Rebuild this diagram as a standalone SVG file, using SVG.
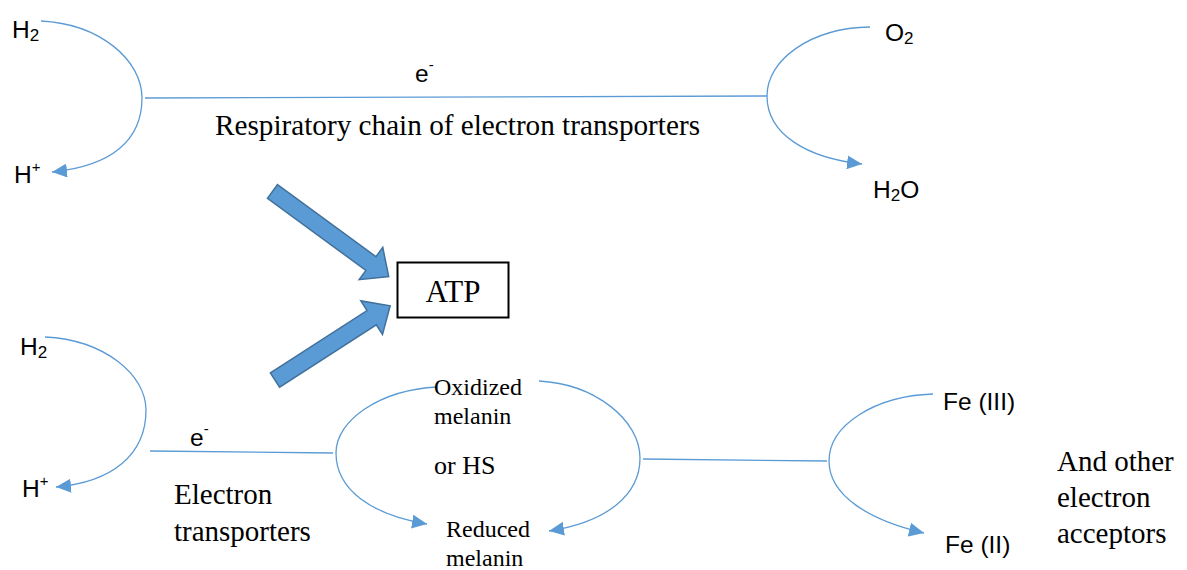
<svg xmlns="http://www.w3.org/2000/svg" width="1187" height="570" viewBox="0 0 1187 570">
  <defs>
    <marker id="tri" markerUnits="userSpaceOnUse" markerWidth="16" markerHeight="14" refX="15" refY="7" orient="auto">
      <path d="M0,0 L15,7 L0,14 z" fill="#5B9BD5"/>
    </marker>
    <style>
      .ln { fill: none; stroke: #5B9BD5; stroke-width: 1.3; }
      .arr { marker-end: url(#tri); }
      .sans { font-family: "Liberation Sans", Arial, sans-serif; font-size: 24.5px; fill: #000; }
      .sub { font-size: 17px; }
      .sup { font-size: 15px; }
      .serif { font-family: "Liberation Serif", "Times New Roman", serif; fill: #000; }
      .big { font-size: 29px; }
      .mid { font-size: 24px; }
      .block { fill: #5B9BD5; stroke: #41719C; stroke-width: 1.5; }
    </style>
  </defs>
  <rect width="1187" height="570" fill="#fff"/>

  <!-- connectors -->
  <g id="connectors">
    <!-- aerobic chain -->
    <path class="ln arr" d="M41,21 C100,24 142,60 142,98 C142,140 112,166 52,172"/>
    <line class="ln" x1="145" y1="98" x2="767" y2="96"/>
    <path class="ln arr" d="M870,27 C810,28 767,60 767,96 C767,135 808,158 862,164"/>
    <!-- melanin-mediated chain -->
    <path class="ln arr" d="M45,337 C105,340 146,375 146,410 C146,455 112,482 56,487"/>
    <line class="ln" x1="150" y1="451" x2="333" y2="453"/>
    <path class="ln arr" d="M437,387 C380,390 336,420 336,453 C336,490 372,515 427,524"/>
    <path class="ln arr" d="M539,381 C595,384 640,420 640,458 C640,495 607,522 549,531"/>
    <line class="ln" x1="643" y1="459" x2="827" y2="461"/>
    <path class="ln arr" d="M933,394 C875,396 829,425 829,461 C829,495 868,520 924,533"/>
    <!-- block arrows into ATP -->
    <polygon class="block" transform="translate(272.5,191.5) rotate(36.2)" points="0,-8.5 122,-8.5 122,-20 144,0 122,20 122,8.5 0,8.5"/>
    <polygon class="block" transform="translate(275,380) rotate(-32.8)" points="0,-8.5 115,-8.5 115,-20 137,0 115,20 115,8.5 0,8.5"/>
  </g>

  <!-- top row labels -->
  <g id="h2-top"><text class="sans" x="12" y="38">H<tspan class="sub" dy="3">2</tspan></text></g>
  <g id="hplus-top"><text class="sans" x="14" y="183">H<tspan class="sup" dy="-11">+</tspan></text></g>
  <g id="e-top"><text class="sans" x="415" y="82">e<tspan class="sup" dy="-12">-</tspan></text></g>
  <g id="resp-chain"><text class="serif big" x="215" y="135" textLength="485" lengthAdjust="spacingAndGlyphs">Respiratory chain of electron transporters</text></g>
  <g id="o2"><text class="sans" x="885" y="41">O<tspan class="sub" dy="3">2</tspan></text></g>
  <g id="h2o"><text class="sans" x="873" y="198">H<tspan class="sub" dy="3">2</tspan><tspan dy="-3">O</tspan></text></g>

  <!-- ATP -->
  <g id="atp">
    <rect x="397.5" y="262.5" width="111" height="55" fill="#fff" stroke="#000" stroke-width="2"/>
    <text class="serif" font-size="31" x="453" y="302" text-anchor="middle">ATP</text>
  </g>

  <!-- bottom row labels -->
  <g id="h2-bottom"><text class="sans" x="20" y="355">H<tspan class="sub" dy="3">2</tspan></text></g>
  <g id="hplus-bottom"><text class="sans" x="22" y="497">H<tspan class="sup" dy="-11">+</tspan></text></g>
  <g id="e-bottom"><text class="sans" x="190" y="446">e<tspan class="sup" dy="-12">-</tspan></text></g>
  <g id="transporters">
    <text class="serif big" x="174" y="504">Electron</text>
    <text class="serif big" x="174" y="541">transporters</text>
  </g>
  <g id="oxidized">
    <text class="serif mid" x="434" y="395">Oxidized</text>
    <text class="serif mid" x="434" y="424">melanin</text>
    <text class="serif" font-size="26" x="434" y="474">or HS</text>
  </g>
  <g id="reduced">
    <text class="serif mid" x="446" y="537">Reduced</text>
    <text class="serif mid" x="446" y="566">melanin</text>
  </g>
  <g id="fe3"><text class="sans" x="943" y="410">Fe (III)</text></g>
  <g id="fe2"><text class="sans" x="945" y="553">Fe (II)</text></g>
  <g id="acceptors">
    <text class="serif big" x="1057" y="471">And other</text>
    <text class="serif big" x="1057" y="507">electron</text>
    <text class="serif big" x="1057" y="543">acceptors</text>
  </g>
</svg>
